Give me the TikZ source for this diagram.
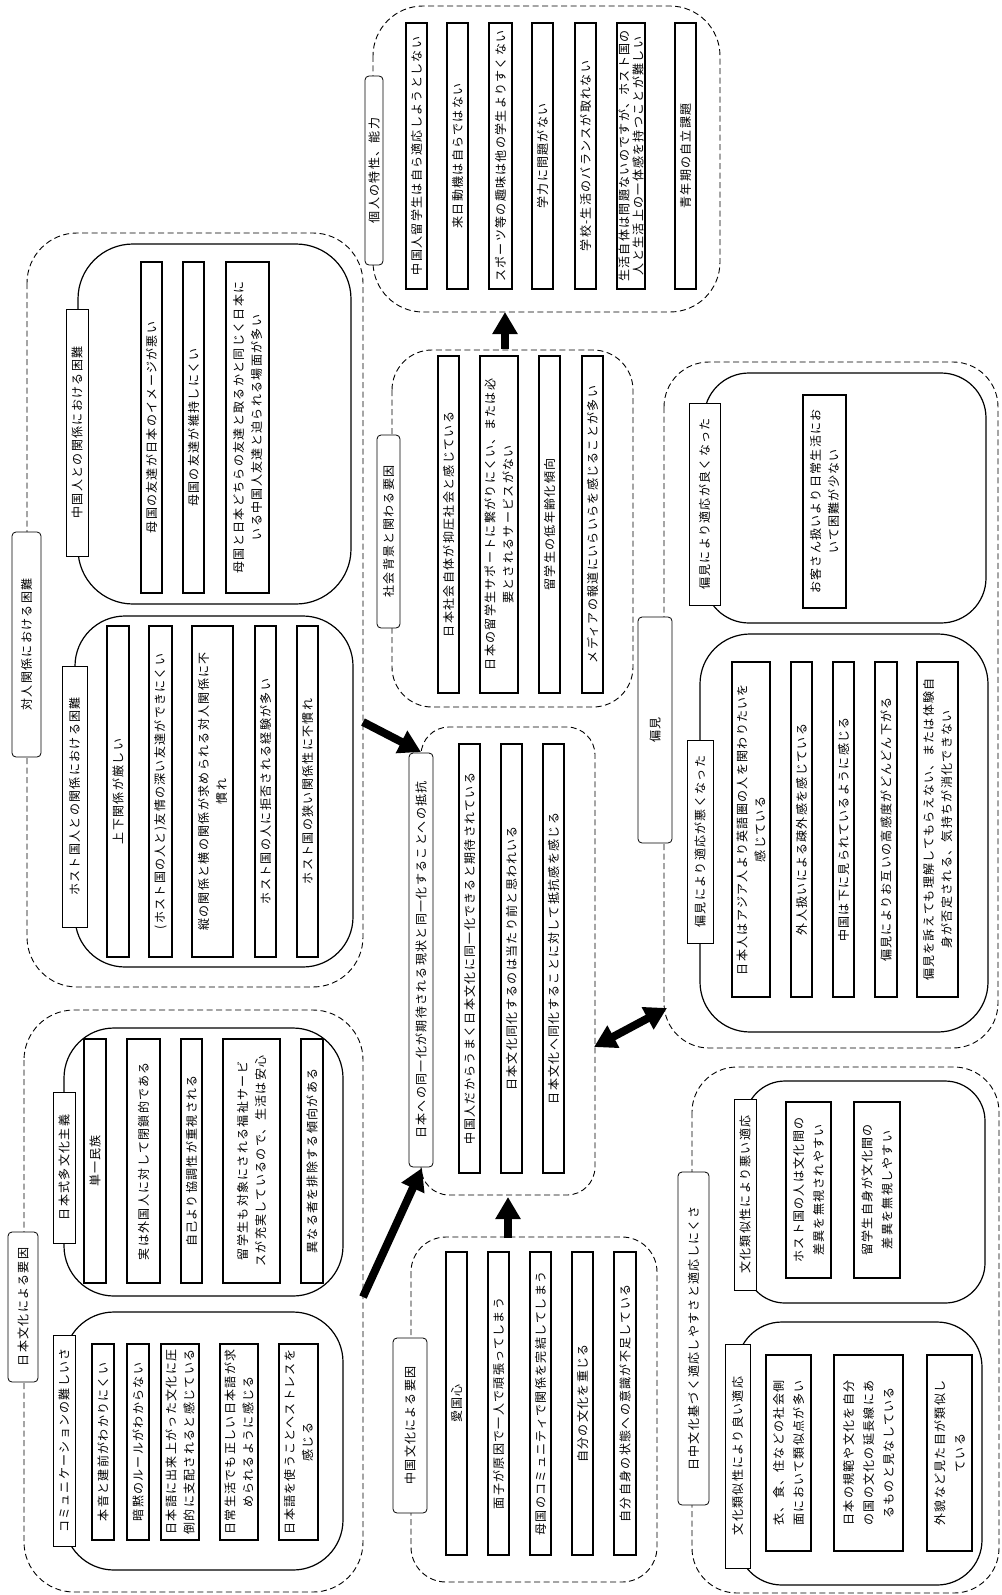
\documentclass[tikz,border=0pt]{standalone}
\usepackage{fontspec}
\newfontfamily\jp[LetterSpace=11]{Noto Sans CJK JP}
\usetikzlibrary{arrows.meta}
\newcommand\mybox[7]{%
  \pgfmathsetmacro\mbcx{(#2+#4)/2}%
  \pgfmathsetmacro\mbcy{(#3+#5)/2}%
  \pgfmathsetmacro\mbw{#5-#3}%
  \pgfmathsetmacro\mbh{#4-#2}%
  \pgfmathsetmacro\mbt{#5-#3-4}%
  \node[#6, minimum width=\mbw pt, minimum height=\mbh pt, text width=\mbt pt] (#1) at (\mbcx,\mbcy) {#7};}
\begin{document}
\begin{tikzpicture}[x=1pt,y=-1pt,
  every node/.style={font=\jp\fontsize{12}{18}\selectfont, inner sep=0pt},
  item/.style={draw, line width=1.8pt, rotate=90, align=center},
  sublab/.style={draw, fill=white, line width=0.8pt, rotate=90, align=center},
  toplab/.style={draw, fill=white, line width=0.8pt, rounded corners=4pt, rotate=90, align=center},
  grp/.style={draw, line width=0.9pt, dash pattern=on 6pt off 3.5pt},
  subgrp/.style={draw, line width=1.2pt},
  bigarrow/.style={line width=8pt, -{Triangle[length=22pt,width=24pt]}},
  dblarrow/.style={line width=8pt, {Triangle[length=22pt,width=24pt]}-{Triangle[length=22pt,width=24pt]}},
]
\useasboundingbox (0,0) rectangle (1001,1595);
\fill[white] (0,0) rectangle (1001,1595);

% dashed group containers
\draw[grp, rounded corners=50pt] (373,6) rectangle (720,312);
\draw[grp, rounded corners=40pt] (392,350) rectangle (633,707);
\draw[grp, rounded corners=50pt] (27,233) rectangle (363,987);
\draw[grp, rounded corners=28pt] (421,727) rectangle (595,1195);
\draw[grp, rounded corners=45pt] (664,362) rectangle (998,1048);
\draw[grp, rounded corners=50pt] (24,1010) rectangle (363,1592);
\draw[grp, rounded corners=35pt] (411,1237) rectangle (657,1582);
\draw[grp, rounded corners=45pt] (692,1067) rectangle (999,1593);

% solid sub containers
\draw[subgrp, rounded corners=55pt] (78,244) rectangle (351,604);
\draw[subgrp, rounded corners=50pt] (75,616) rectangle (353,967);
\draw[subgrp, rounded corners=45pt] (704,373) rectangle (986,623);
\draw[subgrp, rounded corners=50pt] (700,634) rectangle (988,1032);
\draw[subgrp, rounded corners=50pt] (64,1028) rectangle (343,1296);
\draw[subgrp, rounded corners=50pt] (64,1312) rectangle (343,1570);
\draw[subgrp, rounded corners=40pt] (745,1081) rectangle (985,1303);
\draw[subgrp, rounded corners=45pt] (737,1322) rectangle (982,1585);

% top-level labels
\mybox{lA}{365}{76}{383}{265}{toplab}{個人の特性、能力}
\mybox{lB}{377}{435}{400}{628}{toplab}{社会背景と関わる要因}
\mybox{lC}{12}{532}{41}{757}{toplab}{対人関係における困難}
\mybox{lD}{409}{753}{433}{1167}{toplab}{日本への同一化が期待される現状と同一化することへの抵抗}
\mybox{lE}{638}{617}{672}{843}{toplab}{偏見}
\mybox{lF}{8}{1232}{38}{1382}{toplab}{日本文化による要因}
\mybox{lG}{393}{1338}{427}{1513}{toplab}{中国文化による要因}
\mybox{lH}{678}{1172}{709}{1505}{toplab}{日中文化基づく適応しやすさと適応しにくさ}

% sub labels
\mybox{lC1}{66}{309}{88}{556}{sublab}{中国人との関係における困難}
\mybox{lC2}{62}{666}{87}{927}{sublab}{ホスト国人との関係における困難}
\mybox{lE1}{689}{403}{720}{605}{sublab}{偏見により適応が良くなった}
\mybox{lE2}{687}{740}{713}{943}{sublab}{偏見により適応が悪くなった}
\mybox{lF1}{53}{1092}{75}{1243}{sublab}{日本式多文化主義}
\mybox{lF2}{53}{1335}{75}{1546}{sublab}{コミュニケーションの難しいさ}
\mybox{lH1}{734}{1099}{756}{1290}{sublab}{文化類似性により悪い適応}
\mybox{lH2}{725}{1344}{750}{1568}{sublab}{文化類似性により良い適応}

% A items
\mybox{a1}{406}{23}{427}{289}{item}{中国人留学生は自ら適応しようとしない}
\mybox{a2}{447}{23}{468}{289}{item}{来日動機は自らではない}
\mybox{a3}{489}{23}{512}{289}{item}{スポーツ等の趣味は他の学生よりすくない}
\mybox{a4}{532}{23}{553}{289}{item}{学力に問題がない}
\mybox{a5}{575}{23}{596}{289}{item}{学校-生活のバランスが取れない}
\mybox{a6}{617}{23}{645}{289}{item, font=\jp\fontsize{12}{14}\selectfont}{生活自体は問題ないのですが、ホスト国の\\人と生活上の一体感を持つことが難しい}
\mybox{a7}{675}{23}{696}{289}{item}{青年期の自立課題}

% B items
\mybox{b1}{438}{356}{459}{693}{item}{日本社会自体が抑圧社会と感じている}
\mybox{b2}{480}{356}{518}{693}{item}{日本の留学生サポートに繋がりにくい、または必\\要とされるサービスがない}
\mybox{b3}{539}{356}{560}{693}{item}{留学生の低年齢化傾向}
\mybox{b4}{582}{356}{603}{693}{item}{メディアの報道にいらいらを感じることが多い}

% C1 items
\mybox{c11}{141}{262}{162}{593}{item}{母国の友達が日本のイメージが悪い}
\mybox{c12}{183}{262}{204}{593}{item}{母国の友達が維持しにくい}
\mybox{c13}{226}{262}{269}{593}{item}{母国と日本どちらの友達と取るかと同じく日本に\\いる中国人友達と迫られる場面が多い}

% C2 items
\mybox{c21}{107}{626}{129}{957}{item}{上下関係が厳しい}
\mybox{c22}{149}{626}{172}{957}{item}{(ホスト国の人と)友情の深い友達ができにくい}
\mybox{c23}{192}{626}{233}{957}{item}{縦の関係と横の関係が求められる対人関係に不\\慣れ}
\mybox{c24}{255}{626}{276}{957}{item}{ホスト国の人に拒否される経験が多い}
\mybox{c25}{297}{626}{318}{957}{item}{ホスト国の狭い関係性に不慣れ}

% D items
\mybox{d1}{459}{744}{480}{1173}{item}{中国人だからうまく日本文化に同一化できると期待されている}
\mybox{d2}{501}{744}{522}{1173}{item}{日本文化同化するのは当たり前と思われいる}
\mybox{d3}{543}{744}{564}{1173}{item}{日本文化へ同化することに対して抵抗感を感じる}

% E items
\mybox{e11}{803}{395}{846}{608}{item}{お客さん扱いより日常生活にお\\いて困難が少ない}
\mybox{e21}{732}{662}{770}{997}{item}{日本人はアジア人より英語圏の人を関わりたいを\\感じている}
\mybox{e22}{791}{662}{812}{997}{item}{外人扱いによる疎外感を感じている}
\mybox{e23}{833}{662}{854}{997}{item}{中国は下に見られているように感じる}
\mybox{e24}{875}{662}{897}{997}{item}{偏見によりお互いの高感度がどんどん下がる}
\mybox{e25}{917}{662}{958}{997}{item}{偏見を訴えても理解してもらえない、または体験自\\身が否定される、気持ちが消化できない}

% F1 items
\mybox{f11}{84}{1039}{106}{1283}{item}{単一民族}
\mybox{f12}{127}{1039}{160}{1283}{item}{実は外国人に対して閉鎖的である}
\mybox{f13}{181}{1039}{202}{1283}{item}{自己より協調性が重視される}
\mybox{f14}{223}{1039}{280}{1283}{item}{留学生も対象にされる福祉サービ\\スが充実しているので、生活は安心}
\mybox{f15}{301}{1039}{323}{1283}{item}{異なる者を排除する傾向がある}

% F2 items
\mybox{f21}{92}{1344}{114}{1540}{item}{本音と建前がわかりにくい}
\mybox{f22}{127}{1344}{149}{1540}{item}{暗黙のルールがわからない}
\mybox{f23}{161}{1344}{199}{1540}{item}{日本語に出来上がった文化に圧\\倒的に支配されると感じている}
\mybox{f24}{220}{1344}{258}{1540}{item}{日常生活でも正しい日本語が求\\められるように感じる}
\mybox{f25}{279}{1344}{318}{1540}{item}{日本語を使うことへストレスを\\感じる}

% G items
\mybox{g1}{446}{1252}{467}{1555}{item}{愛国心}
\mybox{g2}{488}{1252}{509}{1555}{item}{面子が原因で一人で頑張ってしまう}
\mybox{g3}{530}{1252}{551}{1555}{item}{母国のコミュニティで関係を完結してしまう}
\mybox{g4}{572}{1252}{593}{1555}{item}{自分の文化を重じる}
\mybox{g5}{614}{1252}{636}{1555}{item}{自分自身の状態への意識が不足している}

% H items
\mybox{h11}{786}{1102}{831}{1278}{item, font=\jp\fontsize{12}{20}\selectfont}{ホスト国の人は文化間の\\差異を無視されやすい}
\mybox{h12}{854}{1102}{900}{1278}{item, font=\jp\fontsize{12}{20}\selectfont}{留学生自身が文化間の\\差異を無視しやすい}
\mybox{h21}{766}{1355}{811}{1551}{item, font=\jp\fontsize{12}{20}\selectfont}{衣、食、住などの社会側\\面において類似点が多い}
\mybox{h22}{834}{1355}{903}{1551}{item, font=\jp\fontsize{12}{20}\selectfont}{日本の規範や文化を自分\\の国の文化の延長線にあ\\るものと見なしている}
\mybox{h23}{927}{1355}{972}{1551}{item, font=\jp\fontsize{12}{20}\selectfont}{外貌など見た目が類似し\\ている}

% arrows
\coordinate (ca1) at (363,722);  \coordinate (ca2) at (421,752);
\coordinate (fa1) at (363,1297); \coordinate (fa2) at (422,1168);
\coordinate (ga1) at (508,1238); \coordinate (ga2) at (508,1197);
\coordinate (ba1) at (505,349);  \coordinate (ba2) at (505,312);
\coordinate (de1) at (594,1047); \coordinate (de2) at (667,1008);
\draw[bigarrow] (ca1) -- (ca2);
\draw[bigarrow] (fa1) -- (fa2);
\draw[bigarrow] (ga1) -- (ga2);
\draw[bigarrow] (ba1) -- (ba2);
\draw[dblarrow] (de1) -- (de2);
\end{tikzpicture}
\end{document}
